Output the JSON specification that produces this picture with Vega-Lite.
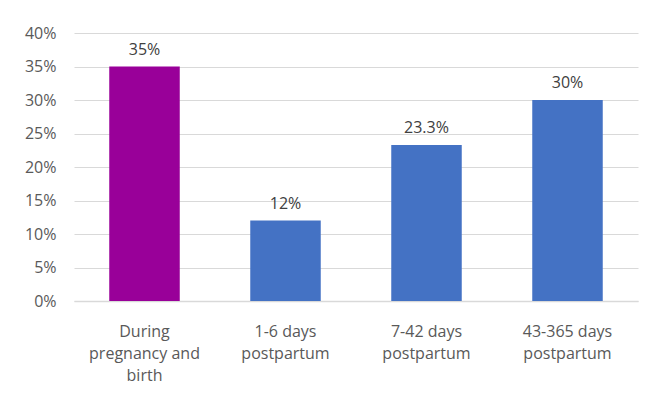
{
  "$schema": "https://vega.github.io/schema/vega-lite/v6.json",
  "width": 564,
  "height": 268,
  "autosize": {"type": "none"},
  "padding": {"left": 74, "top": 33, "right": 14, "bottom": 95},
  "background": "white",
  "config": {
    "view": {"stroke": null},
    "font": "Open Sans"
  },
  "data": {
    "values": [
      {"period": "During pregnancy and birth", "share": 0.35, "group": "pregnancy"},
      {"period": "1-6 days postpartum", "share": 0.12, "group": "postpartum"},
      {"period": "7-42 days postpartum", "share": 0.233, "group": "postpartum"},
      {"period": "43-365 days postpartum", "share": 0.30, "group": "postpartum"}
    ]
  },
  "encoding": {
    "x": {
      "field": "period",
      "type": "nominal",
      "sort": null,
      "scale": {"paddingInner": 0.5, "paddingOuter": 0.25},
      "axis": {
        "title": null,
        "labelAngle": 0,
        "labelFontSize": 16,
        "labelColor": "#595959",
        "labelPadding": 22,
        "labelLineHeight": 22,
        "labelBaseline": "top",
        "labelExpr": "datum.label == 'During pregnancy and birth' ? ['During', 'pregnancy and', 'birth'] : datum.label == '1-6 days postpartum' ? ['1-6 days', 'postpartum'] : datum.label == '7-42 days postpartum' ? ['7-42 days', 'postpartum'] : ['43-365 days', 'postpartum']",
        "ticks": false,
        "domain": true,
        "domainColor": "#D9D9D9",
        "domainWidth": 1.5
      }
    },
    "y": {
      "field": "share",
      "type": "quantitative",
      "scale": {"domain": [0, 0.4], "nice": false},
      "axis": {
        "title": null,
        "values": [0, 0.05, 0.1, 0.15, 0.2, 0.25, 0.3, 0.35, 0.4],
        "format": ".0%",
        "labelFontSize": 16,
        "labelColor": "#595959",
        "labelPadding": 18,
        "ticks": false,
        "domain": false,
        "gridColor": "#D9D9D9",
        "gridWidth": 1.2
      }
    }
  },
  "layer": [
    {
      "mark": {"type": "bar"},
      "encoding": {
        "color": {
          "field": "group",
          "type": "nominal",
          "scale": {"domain": ["pregnancy", "postpartum"], "range": ["#990099", "#4472C4"]},
          "legend": null
        }
      }
    },
    {
      "mark": {"type": "text", "baseline": "bottom", "dy": -9, "fontSize": 16, "color": "#404040"},
      "encoding": {
        "text": {"field": "share", "type": "quantitative", "format": ".1~%"}
      }
    }
  ]
}
